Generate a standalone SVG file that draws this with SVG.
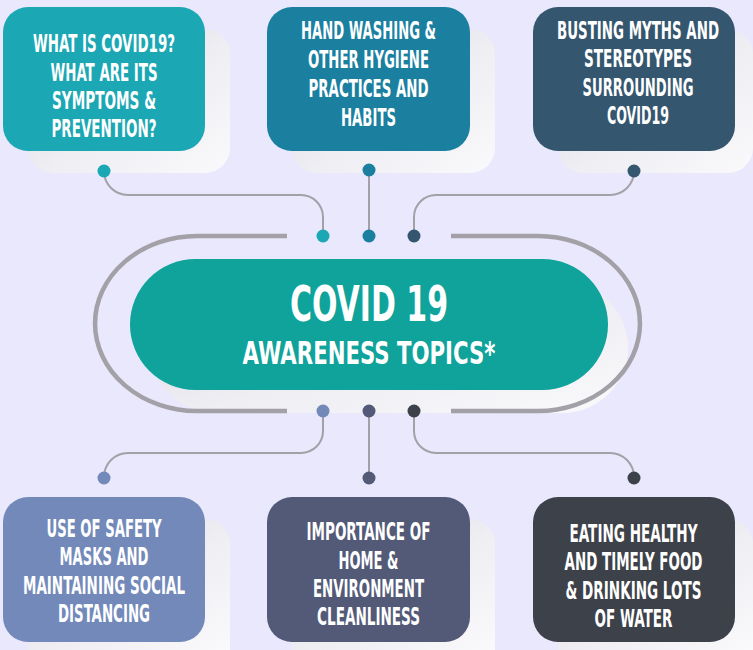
<svg xmlns="http://www.w3.org/2000/svg" width="753" height="650" viewBox="0 0 753 650">
<defs>
<linearGradient id="sh" x1="0" y1="0" x2="1" y2="1">
<stop offset="0" stop-color="#d9d9e1"/>
<stop offset="0.55" stop-color="#eeeef3"/>
<stop offset="1" stop-color="#fafafc"/>
</linearGradient>
<style>
.lbl{font-family:"Liberation Sans Narrow","Arial Narrow","DejaVu Sans Condensed",sans-serif;font-weight:bold;fill:#ffffff;font-size:24px;text-anchor:middle}
.big{font-size:49px}
.mid{font-size:32px}
.shadow{fill:url(#sh)}
.conn{fill:none;stroke:#a3a1a7;stroke-width:2}
.ring{fill:none;stroke:#a3a1a7;stroke-width:4.5}
</style>
</defs>
<rect width="753" height="650" fill="#e9e8fc"/>

<g id="center">
<rect class="shadow" x="150" y="282" width="478" height="131" rx="65.5"/>
<rect x="130" y="259" width="478" height="131" rx="65.5" fill="#0fa39b"/>
<text class="lbl big" transform="translate(369,320.5) scale(0.75,1)" textLength="210.7" lengthAdjust="spacingAndGlyphs">COVID 19</text>
<text class="lbl mid" transform="translate(369,364) scale(0.75,1)" textLength="337.3" lengthAdjust="spacingAndGlyphs">AWARENESS TOPICS*</text>
</g>

<g id="n1">
<rect class="shadow" x="28" y="29" width="202" height="144" rx="25"/>
<rect x="3" y="7" width="202" height="144" rx="25" fill="#1ba7b3"/>
<text class="lbl" transform="translate(104,52) scale(0.75,1)" textLength="189.3" lengthAdjust="spacingAndGlyphs">WHAT IS COVID19?</text>
<text class="lbl" transform="translate(104,80.5) scale(0.75,1)" textLength="142.7" lengthAdjust="spacingAndGlyphs">WHAT ARE ITS</text>
<text class="lbl" transform="translate(104,108.5) scale(0.75,1)" textLength="138.7" lengthAdjust="spacingAndGlyphs">SYMPTOMS &amp;</text>
<text class="lbl" transform="translate(104,137) scale(0.75,1)" textLength="140" lengthAdjust="spacingAndGlyphs">PREVENTION?</text>
</g>

<g id="n2">
<rect class="shadow" x="292" y="29" width="203" height="144" rx="25"/>
<rect x="267" y="7" width="203" height="144" rx="25" fill="#1b7fa0"/>
<text class="lbl" transform="translate(368.5,39) scale(0.75,1)" textLength="180" lengthAdjust="spacingAndGlyphs">HAND WASHING &amp;</text>
<text class="lbl" transform="translate(368.5,68) scale(0.75,1)" textLength="161.3" lengthAdjust="spacingAndGlyphs">OTHER HYGIENE</text>
<text class="lbl" transform="translate(368.5,97) scale(0.75,1)" textLength="160" lengthAdjust="spacingAndGlyphs">PRACTICES AND</text>
<text class="lbl" transform="translate(368.5,126) scale(0.75,1)" textLength="73.3" lengthAdjust="spacingAndGlyphs">HABITS</text>
</g>

<g id="n3">
<rect class="shadow" x="558" y="29" width="195" height="144" rx="25"/>
<rect x="533" y="7" width="202" height="144" rx="25" fill="#34566e"/>
<text class="lbl" transform="translate(638,38.5) scale(0.75,1)" textLength="216" lengthAdjust="spacingAndGlyphs">BUSTING MYTHS AND</text>
<text class="lbl" transform="translate(638,67) scale(0.75,1)" textLength="144" lengthAdjust="spacingAndGlyphs">STEREOTYPES</text>
<text class="lbl" transform="translate(638,95.5) scale(0.75,1)" textLength="148" lengthAdjust="spacingAndGlyphs">SURROUNDING</text>
<text class="lbl" transform="translate(638,124) scale(0.75,1)" textLength="82.7" lengthAdjust="spacingAndGlyphs">COVID19</text>
</g>

<g id="n4">
<path class="shadow" d="M28,650 V544 A25,25 0 0 1 53,519 H205 A25,25 0 0 1 230,544 V650 Z"/>
<rect x="3" y="497" width="202" height="145" rx="25" fill="#7289b9"/>
<text class="lbl" transform="translate(104,537) scale(0.75,1)" textLength="153.3" lengthAdjust="spacingAndGlyphs">USE OF SAFETY</text>
<text class="lbl" transform="translate(104,565) scale(0.75,1)" textLength="118.7" lengthAdjust="spacingAndGlyphs">MASKS AND</text>
<text class="lbl" transform="translate(104,593.5) scale(0.75,1)" textLength="216" lengthAdjust="spacingAndGlyphs">MAINTAINING SOCIAL</text>
<text class="lbl" transform="translate(104,622) scale(0.75,1)" textLength="122.7" lengthAdjust="spacingAndGlyphs">DISTANCING</text>
</g>

<g id="n5">
<path class="shadow" d="M292,650 V544 A25,25 0 0 1 317,519 H470 A25,25 0 0 1 495,544 V650 Z"/>
<rect x="267" y="497" width="203" height="145" rx="25" fill="#525a78"/>
<text class="lbl" transform="translate(368.5,540) scale(0.75,1)" textLength="165.3" lengthAdjust="spacingAndGlyphs">IMPORTANCE OF</text>
<text class="lbl" transform="translate(368.5,568.5) scale(0.75,1)" textLength="80" lengthAdjust="spacingAndGlyphs">HOME &amp;</text>
<text class="lbl" transform="translate(368.5,597) scale(0.75,1)" textLength="148" lengthAdjust="spacingAndGlyphs">ENVIRONMENT</text>
<text class="lbl" transform="translate(368.5,625) scale(0.75,1)" textLength="137.3" lengthAdjust="spacingAndGlyphs">CLEANLINESS</text>
</g>

<g id="n6">
<path class="shadow" d="M558,650 V544 A25,25 0 0 1 583,519 H728 A25,25 0 0 1 753,544 V650 Z"/>
<rect x="533" y="497" width="202" height="145" rx="25" fill="#3d4149"/>
<text class="lbl" transform="translate(633.5,541.5) scale(0.75,1)" textLength="170.7" lengthAdjust="spacingAndGlyphs">EATING HEALTHY</text>
<text class="lbl" transform="translate(633.5,570) scale(0.75,1)" textLength="184" lengthAdjust="spacingAndGlyphs">AND TIMELY FOOD</text>
<text class="lbl" transform="translate(633.5,598.5) scale(0.75,1)" textLength="181.3" lengthAdjust="spacingAndGlyphs">&amp; DRINKING LOTS</text>
<text class="lbl" transform="translate(633.5,627) scale(0.75,1)" textLength="104" lengthAdjust="spacingAndGlyphs">OF WATER</text>
</g>

<g id="connectors">
<path class="ring" d="M287,236 H197 A102,87.5 0 0 0 197,411 H287"/>
<path class="ring" d="M451,236 H538 A102,87.5 0 0 1 538,411 H451"/>
<path class="conn" d="M104,171 A24,24 0 0 0 128,195 H301 A22,22 0 0 1 323,217 V236"/>
<path class="conn" d="M369,170 V236"/>
<path class="conn" d="M634,171 A24,24 0 0 1 610,195 H436 A22,22 0 0 0 414,217 V236"/>
<path class="conn" d="M323,411 V431 A22,22 0 0 1 301,453 H128 A24,24 0 0 0 104,477"/>
<path class="conn" d="M369,411 V478"/>
<path class="conn" d="M414,411 V431 A22,22 0 0 0 436,453 H610 A24,24 0 0 1 634,477"/>
<circle cx="104" cy="171" r="6.5" fill="#1ba7b3"/>
<circle cx="369" cy="170" r="6.5" fill="#1b7fa0"/>
<circle cx="634" cy="171" r="6.5" fill="#34566e"/>
<circle cx="323" cy="236" r="6.5" fill="#1ba7b3"/>
<circle cx="369" cy="236" r="6.5" fill="#1b7fa0"/>
<circle cx="414" cy="236" r="6.5" fill="#34566e"/>
<circle cx="323" cy="411" r="6.5" fill="#7289b9"/>
<circle cx="369" cy="411" r="6.5" fill="#525a78"/>
<circle cx="414" cy="411" r="6.5" fill="#3d4149"/>
<circle cx="104" cy="478" r="6.5" fill="#7289b9"/>
<circle cx="369" cy="478" r="6.5" fill="#525a78"/>
<circle cx="634" cy="478" r="6.5" fill="#3d4149"/>
</g>
</svg>
